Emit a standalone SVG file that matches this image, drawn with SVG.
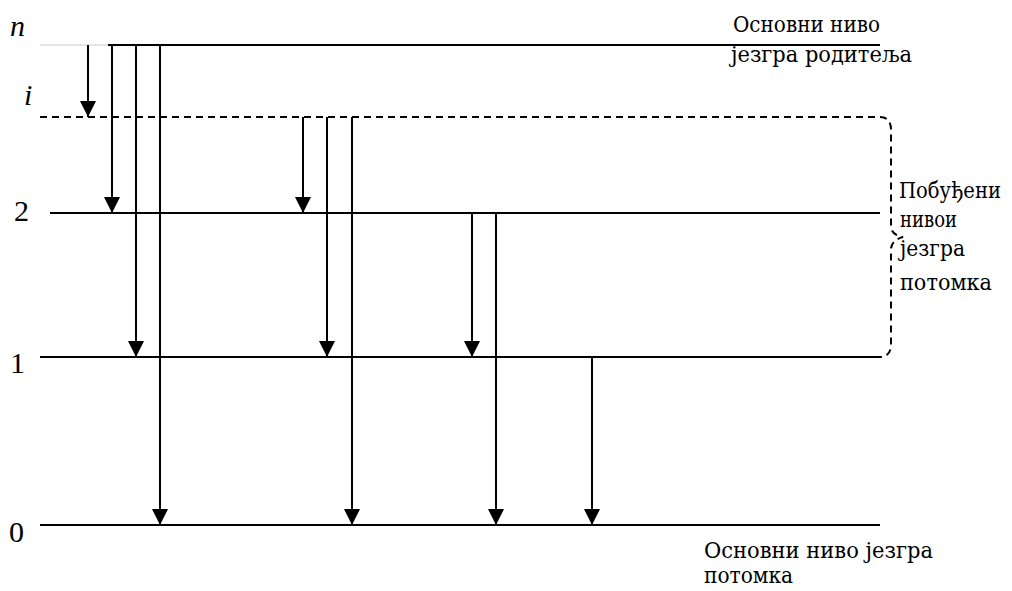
<svg xmlns="http://www.w3.org/2000/svg" width="1012" height="591" viewBox="0 0 1012 591">
<defs>
<marker id="ah" markerWidth="16" markerHeight="16" viewBox="0 0 16 16" refX="16" refY="8" orient="auto" markerUnits="userSpaceOnUse">
<path d="M0,0 L16,8 L0,16 Z" fill="#000"/>
</marker>
</defs>
<style>
.lvl{stroke:#000;stroke-width:2;fill:none}
.dash{stroke:#000;stroke-width:2;fill:none;stroke-dasharray:7,5}
.arr{stroke:#000;stroke-width:2;fill:none}
.lab{font-family:"Liberation Serif",serif;font-size:30px;fill:#000}
.txt{font-family:"DejaVu Serif","Liberation Serif",serif;font-size:22px;fill:#000}
</style>
<rect width="1012" height="591" fill="#fff"/>
<g id="level-n">
<line x1="40" y1="45" x2="108" y2="45" stroke="#ccc" stroke-width="1"/>
<line class="lvl" x1="108" y1="45" x2="880" y2="45"/>
<text class="lab" x="10" y="36" font-style="italic">n</text>
<text class="txt" x="733" y="32" textLength="147" lengthAdjust="spacingAndGlyphs">Основни ниво</text>
<text class="txt" x="731" y="62" textLength="181" lengthAdjust="spacingAndGlyphs">језгра родитеља</text>
</g>
<g id="level-i">
<line class="dash" x1="40" y1="117" x2="880" y2="117"/>
<text class="lab" x="24" y="105" font-style="italic">i</text>
</g>
<g id="level-2">
<line class="lvl" x1="50" y1="213" x2="880" y2="213"/>
<text class="lab" x="14" y="221">2</text>
</g>
<g id="level-1">
<line class="lvl" x1="40" y1="357" x2="880" y2="357"/>
<text class="lab" x="10" y="373">1</text>
</g>
<g id="level-0">
<line class="lvl" x1="40" y1="525" x2="880" y2="525"/>
<text class="lab" x="9" y="542">0</text>
<text class="txt" x="704" y="558" textLength="229" lengthAdjust="spacingAndGlyphs">Основни ниво језгра</text>
<text class="txt" x="704" y="583" textLength="89" lengthAdjust="spacingAndGlyphs">потомка</text>
</g>
<g id="brace">
<path class="dash" d="M880,117 Q891,117 891,130 L891,226 Q891,235 903,237 Q891,240 891,250 L891,344 Q891,357 880,357"/>
<text class="txt" x="899" y="198" textLength="102" lengthAdjust="spacingAndGlyphs">Побуђени</text>
<text class="txt" x="900" y="227" textLength="57" lengthAdjust="spacingAndGlyphs">нивои</text>
<text class="txt" x="900" y="256" textLength="65" lengthAdjust="spacingAndGlyphs">језгра</text>
<text class="txt" x="900" y="290" textLength="92" lengthAdjust="spacingAndGlyphs">потомка</text>
</g>
<g id="connectors">
<line class="arr" x1="88" y1="45" x2="88" y2="117" marker-end="url(#ah)"/>
<line class="arr" x1="112" y1="45" x2="112" y2="213" marker-end="url(#ah)"/>
<line class="arr" x1="136" y1="45" x2="136" y2="357" marker-end="url(#ah)"/>
<line class="arr" x1="160" y1="45" x2="160" y2="525" marker-end="url(#ah)"/>
<line class="arr" x1="303" y1="117" x2="303" y2="213" marker-end="url(#ah)"/>
<line class="arr" x1="327" y1="117" x2="327" y2="357" marker-end="url(#ah)"/>
<line class="arr" x1="352" y1="117" x2="352" y2="525" marker-end="url(#ah)"/>
<line class="arr" x1="472" y1="213" x2="472" y2="357" marker-end="url(#ah)"/>
<line class="arr" x1="496" y1="213" x2="496" y2="525" marker-end="url(#ah)"/>
<line class="arr" x1="592" y1="357" x2="592" y2="525" marker-end="url(#ah)"/>
</g>
</svg>
